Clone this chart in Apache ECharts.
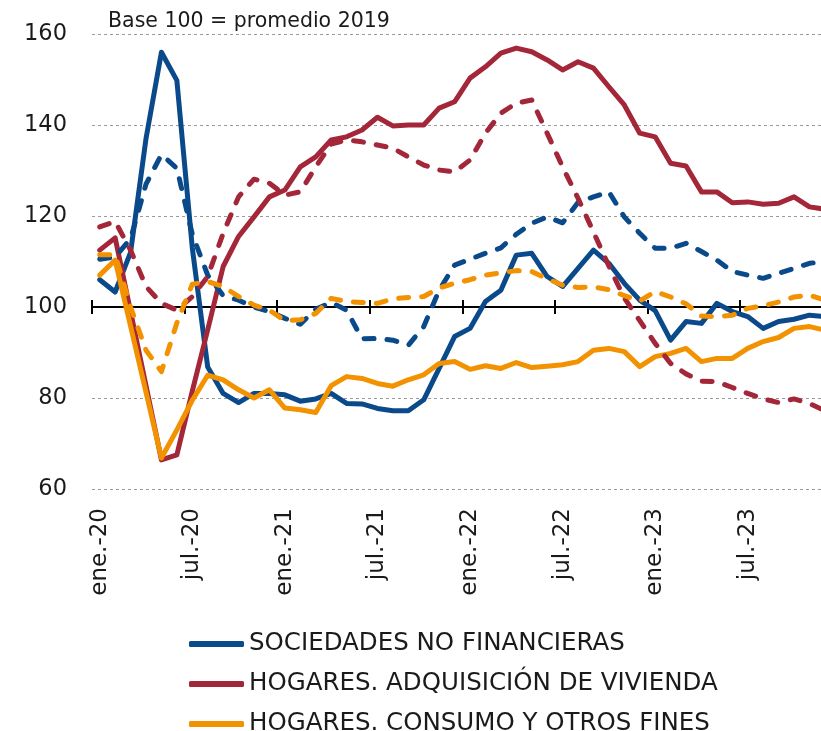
<!DOCTYPE html>
<html>
<head>
<meta charset="utf-8">
<script src="https://cdn.jsdelivr.net/npm/echarts@6/dist/echarts.min.js"></script>
<style>
  html, body { margin: 0; padding: 0; background: #ffffff; }
  #chart { width: 821px; height: 731px; }
</style>
</head>
<body>
<div id="chart"></div>
<script>
// Monthly categories, January 2020 to December 2023
const monthAbbr = ['ene.', 'feb.', 'mar.', 'abr.', 'may.', 'jun.', 'jul.', 'ago.', 'sept.', 'oct.', 'nov.', 'dic.'];
const years = ['20', '21', '22', '23'];
const months = [];
years.forEach(function (y) { monthAbbr.forEach(function (m) { months.push(m + '-' + y); }); });

// Series names (legend shows the solid lines only)
const nameSNF = 'SOCIEDADES NO FINANCIERAS';
const nameViv = 'HOGARES. ADQUISICIÓN DE VIVIENDA';
const nameCon = 'HOGARES. CONSUMO Y OTROS FINES';

// Solid lines (base 100 = 2019 average)
const snfSolid = [106, 103.3, 112, 137, 156, 149.8, 113, 86.8, 81, 79, 81, 81,
  80.7, 79.3, 79.8, 81, 78.8, 78.7, 77.7, 77.2, 77.2, 79.6, 86.5, 93.5,
  95.3, 101.2, 103.7, 111.4, 111.8, 106.7, 104.5, 108.5, 112.5, 109.6, 105.2, 101.5,
  99.2, 92.7, 96.8, 96.4, 100.8, 99, 97.9, 95.3, 96.8, 97.3, 98.2, 97.9];
const vivSolid = [112.5, 115.2, 99, 82.7, 66.4, 67.5, 81.5, 95, 108.9, 115.5, 119.8, 124.2,
  125.7, 130.8, 133, 136.7, 137.4, 138.9, 141.7, 139.8, 140, 140, 143.7, 145.1,
  150.3, 152.8, 155.8, 156.9, 156.1, 154.3, 152.1, 153.9, 152.5, 148.4, 144.4, 138.2,
  137.4, 131.6, 131, 125.3, 125.3, 122.9, 123.1, 122.6, 122.8, 124.2, 122, 121.5];
const conSolid = [107, 110.3, 95.8, 81.3, 66.8, 73, 79.5, 85, 84, 81.8, 80, 81.8,
  77.8, 77.4, 76.8, 82.7, 84.7, 84.3, 83.2, 82.6, 84, 85.1, 87.6, 88,
  86.3, 87.1, 86.5, 87.8, 86.7, 87, 87.3, 88, 90.5, 90.9, 90.2, 86.9,
  89.1, 89.8, 90.9, 88, 88.7, 88.7, 90.9, 92.4, 93.3, 95.3, 95.7, 94.9];

// Dashed lines
const snfDashed = [110.5, 111, 115, 127, 133.5, 130.5, 116, 107, 102.5, 101.5, 100, 99,
  97.5, 96.2, 99.5, 101, 99.3, 93, 93.1, 92.7, 91.6, 95.7, 103.7, 109.2,
  110.5, 111.8, 113, 116, 118.4, 119.8, 118.5, 123, 124.2, 125.3, 119.8, 116.2,
  112.9, 112.9, 114, 112.2, 110.3, 107.8, 107, 106.3, 107.4, 108.5, 109.6, 110];
const vivDashed = [117.6, 118.8, 112.5, 104.5, 100.8, 99.3, 102.3, 106.7, 116.2, 124.2, 128.1, 127.2,
  124.6, 125.3, 130.8, 135.8, 136.7, 136.3, 135.6, 134.9, 133, 131.2, 130.1, 129.7,
  132.3, 138.2, 142.6, 144.8, 145.5, 138.2, 130.8, 123.9, 116.5, 109, 102, 97,
  92, 87.6, 85.3, 83.7, 83.6, 82.3, 81, 79.8, 79, 79.8, 78.8, 77.2];
const conDashed = [111.5, 111.5, 100, 90.5, 85.8, 96.5, 105, 105.6, 104.5, 102.3, 100.4, 99.3,
  97, 97.2, 98.6, 101.9, 101.2, 101, 100.8, 101.8, 102.1, 102.3, 104.2, 105.2,
  106, 107, 107.5, 108, 107.8, 106.2, 104.8, 104.3, 104.4, 103.8, 102.5, 101.3,
  103.4, 102.2, 100.7, 98, 97.9, 98.2, 99.7, 100.3, 101.1, 102.2, 102.6, 101.5];

// Y axis range and the reference level drawn as the horizontal axis line
const yMin = 60, yMax = 160, yStep = 20, baseLevel = 100;

const colBlue = '#0A4A8A', colRed = '#A32639', colOrange = '#F39200';
const FONT = '"DejaVu Sans", "Liberation Sans", sans-serif';
const TEXT = '#1a1a1a';

const gridTop = 34, gridHeight = 455, gridLeft = 92, gridWidth = 740.6;
const axisShift = -gridHeight * (baseLevel - yMin) / (yMax - yMin);

function solid(name, data, color) {
  return { name: name, type: 'line', data: data, xAxisIndex: 0, yAxisIndex: 0,
    symbol: 'none', smooth: false, z: 3,
    lineStyle: { color: color, width: 5, cap: 'round', join: 'round' },
    itemStyle: { color: color } };
}
function dashed(name, data, color) {
  return { name: name, type: 'line', data: data, xAxisIndex: 0, yAxisIndex: 0,
    symbol: 'none', smooth: false, z: 4,
    lineStyle: { color: color, width: 5, type: [10, 13], cap: 'round', join: 'round' },
    itemStyle: { color: color } };
}

const chart = echarts.init(document.getElementById('chart'), null, { renderer: 'canvas' });
chart.setOption({
  animation: false,
  backgroundColor: '#ffffff',
  title: {
    text: 'Base 100 = promedio 2019', left: 103, top: 6,
    textStyle: { fontFamily: FONT, fontSize: 20.5, fontWeight: 'normal', color: TEXT }
  },
  grid: { left: gridLeft, top: gridTop, width: gridWidth, height: gridHeight, containLabel: false, outerBoundsMode: 'none' },
  legend: {
    data: [nameSNF, nameViv, nameCon],
    orient: 'vertical', left: 189, top: 630, height: 300, padding: 0,
    icon: 'roundRect', itemWidth: 55, itemHeight: 6, itemGap: 12,
    textStyle: { fontFamily: FONT, fontSize: 24.5, color: TEXT, lineHeight: 28 }
  },
  xAxis: [
    { // month labels
      type: 'category', data: months, boundaryGap: true, position: 'bottom',
      axisLine: { show: false }, axisTick: { show: false }, splitLine: { show: false },
      axisLabel: { interval: 5, rotate: 90, margin: 19, fontFamily: FONT, fontSize: 23, color: TEXT }
    },
    { // line at 100 with ticks below it
      type: 'category', data: months, boundaryGap: true, position: 'bottom', offset: axisShift,
      axisLine: { show: true, lineStyle: { color: '#000', width: 2 } },
      axisTick: { show: true, interval: 5, inside: false, length: 7, lineStyle: { color: '#000', width: 2 } },
      axisLabel: { show: false }, splitLine: { show: false }
    },
    { // ticks above the line at 100
      type: 'category', data: months, boundaryGap: true, position: 'bottom', offset: axisShift,
      axisLine: { show: false },
      axisTick: { show: true, interval: 5, inside: true, length: 7, lineStyle: { color: '#000', width: 2 } },
      axisLabel: { show: false }, splitLine: { show: false }
    }
  ],
  yAxis: {
    type: 'value', min: yMin, max: yMax, interval: yStep,
    axisLine: { show: false }, axisTick: { show: false },
    axisLabel: { margin: 25, fontFamily: FONT, fontSize: 22.5, color: TEXT },
    splitLine: { show: true, lineStyle: { color: '#9a9a9a', width: 1, type: [3, 3] } }
  },
  series: [
    solid(nameSNF, snfSolid, colBlue),
    solid(nameViv, vivSolid, colRed),
    solid(nameCon, conSolid, colOrange),
    dashed(nameSNF + ' (trazo discontinuo)', snfDashed, colBlue),
    dashed(nameViv + ' (trazo discontinuo)', vivDashed, colRed),
    dashed(nameCon + ' (trazo discontinuo)', conDashed, colOrange)
  ]
});
</script>
</body>
</html>
